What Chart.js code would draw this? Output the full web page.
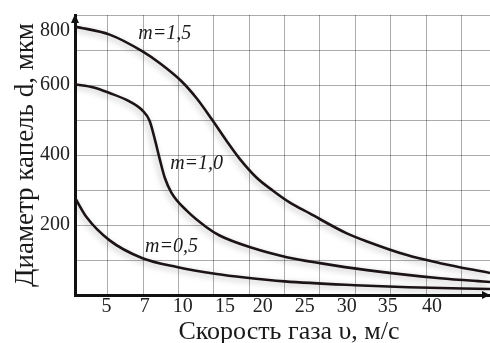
<!DOCTYPE html>
<html><head><meta charset="utf-8">
<script src="https://cdn.jsdelivr.net/npm/chart.js@4/dist/chart.umd.min.js"></script>
<style>html,body{margin:0;padding:0;background:#fff}#wrap{width:490px;height:343px}</style>
</head><body><div id="wrap"><canvas id="c" width="490" height="343"></canvas></div>
<script>
// x = position along the (non-uniform) velocity axis, in grid cells; y = drop diameter d, мкм
const seriesNames = ['m=1,5', 'm=1,0', 'm=0,5'];
const m15X = [0.07, 1.05, 1.98, 2.50, 3.09, 3.51, 3.94, 4.36, 4.73, 5.21, 5.67, 6.15, 6.71, 7.76, 8.33, 9.46, 10.40, 11.81];
const m15Y = [767, 744, 696, 660, 610, 562, 502, 440, 389, 335, 298, 264, 233, 176, 153, 114, 91, 63];
const m10X = [0.07, 0.60, 1.05, 1.61, 1.98, 2.18, 2.32, 2.46, 2.61, 2.80, 3.23, 3.80, 4.16, 5.10, 6.06, 7.00, 8.33, 10.40, 11.81];
const m10Y = [602, 593, 577, 553, 527, 498, 448, 391, 335, 292, 241, 193, 170, 134, 108, 91, 71, 48, 37];
const m05X = [0.07, 0.40, 1.05, 1.98, 2.95, 4.08, 4.87, 6.00, 7.99, 9.50, 11.81];
const m05Y = [278, 222, 156, 105, 80, 60, 50, 39, 28, 22, 17];

const xTickLabels = ['5', '7', '10', '15', '20', '25', '30', '35', '40'];
const xTickPos = [0.96, 2.04, 3.12, 4.31, 5.38, 6.57, 7.76, 8.92, 10.17];
const yTickLabels = ['200', '400', '600', '800'];
const yTickPos = [200, 400, 600, 755];
const xGrid = [1, 2, 3, 4, 5, 6, 7, 8, 9, 10, 11];
const yGrid = [100, 200, 300, 400, 500, 600, 700, 800];
const curveLabelX = [2.61, 3.51, 2.80];
const curveLabelY = [746, 374, 139];

const zip = (xs, ys) => xs.map((x, i) => ({x, y: ys[i]}));
const SERIF = '"Liberation Serif", "DejaVu Serif", serif';
const gridColor = 'rgba(0,0,0,0.33)';
const lineColor = '#1c1414';

const ds = (label, xs, ys) => ({
  label, data: zip(xs, ys), borderColor: lineColor, borderWidth: 2.6,
  pointRadius: 0, fill: false, cubicInterpolationMode: 'monotone'
});

const decor = {
  id: 'decor',
  beforeDatasetsDraw(chart) {
    const c = chart.ctx; c.save();
    c.shadowColor = 'rgba(0,0,0,0.28)'; c.shadowBlur = 6; c.shadowOffsetX = -2; c.shadowOffsetY = 2;
  },
  afterDatasetsDraw(chart) { chart.ctx.restore(); },
  afterDraw(chart) {
    const c = chart.ctx, a = chart.chartArea, xs = chart.scales.x, ys = chart.scales.y;
    c.save();
    c.fillStyle = '#111';
    c.beginPath(); c.moveTo(a.left, a.top - 1); c.lineTo(a.left - 4, a.top + 8); c.lineTo(a.left + 4, a.top + 8); c.closePath(); c.fill();
    c.beginPath(); c.moveTo(a.right, a.bottom); c.lineTo(a.right - 8, a.bottom - 4); c.lineTo(a.right - 8, a.bottom + 4); c.closePath(); c.fill();
    c.font = 'italic 20px ' + SERIF; c.fillStyle = '#1a1a1a';
    c.textAlign = 'center'; c.textBaseline = 'middle';
    seriesNames.forEach((n, i) => c.fillText(n, xs.getPixelForValue(curveLabelX[i]), ys.getPixelForValue(curveLabelY[i])));
    c.restore();
  }
};

new Chart(document.getElementById('c'), {
  type: 'line',
  data: { datasets: [ds(seriesNames[0], m15X, m15Y), ds(seriesNames[1], m10X, m10Y), ds(seriesNames[2], m05X, m05Y)] },
  options: {
    responsive: false, devicePixelRatio: 1, animation: false,
    layout: { padding: { top: 13, right: 0, left: 0, bottom: 0 } },
    plugins: { legend: { display: false }, tooltip: { enabled: false } },
    scales: {
      x: {
        type: 'linear', min: 0.07, max: 11.81,
        afterBuildTicks: s => { s.ticks = [...xGrid, ...xTickPos].sort((a, b) => a - b).map(v => ({value: v})); },
        afterFit: s => { s.height = 48; },
        ticks: {
          autoSkip: false, maxRotation: 0, padding: 2, color: '#222',
          font: { family: SERIF, size: 20, lineHeight: 1 },
          callback: v => { const i = xTickPos.indexOf(v); return i >= 0 ? xTickLabels[i] : ''; }
        },
        grid: { drawTicks: false, lineWidth: 1, color: ctx => (ctx.tick && xGrid.includes(ctx.tick.value)) ? gridColor : 'rgba(0,0,0,0)' },
        border: { color: '#111', width: 3 },
        title: { display: true, text: '  Скорость газа υ, м/с', color: '#1a1a1a', font: { family: SERIF, size: 26, lineHeight: 1 }, padding: { top: 0, bottom: -2 } }
      },
      y: {
        type: 'linear', min: 0, max: 800,
        afterBuildTicks: s => { s.ticks = [...yGrid, ...yTickPos.filter(v => !yGrid.includes(v))].sort((a, b) => a - b).map(v => ({value: v})); },
        afterFit: s => { s.width = 75; },
        ticks: {
          autoSkip: false, padding: 5, color: '#222',
          font: { family: SERIF, size: 20, lineHeight: 1 },
          callback: v => { const i = yTickPos.indexOf(v); return i >= 0 ? yTickLabels[i] : ''; }
        },
        grid: { drawTicks: false, lineWidth: 1, color: ctx => (ctx.tick && yGrid.includes(ctx.tick.value)) ? gridColor : 'rgba(0,0,0,0)' },
        border: { color: '#111', width: 3 },
        title: { display: true, text: 'Диаметр капель d, мкм', color: '#1a1a1a', font: { family: SERIF, size: 27, lineHeight: 1 }, padding: { top: 12, bottom: 0 } }
      }
    }
  },
  plugins: [decor]
});
</script></body></html>
